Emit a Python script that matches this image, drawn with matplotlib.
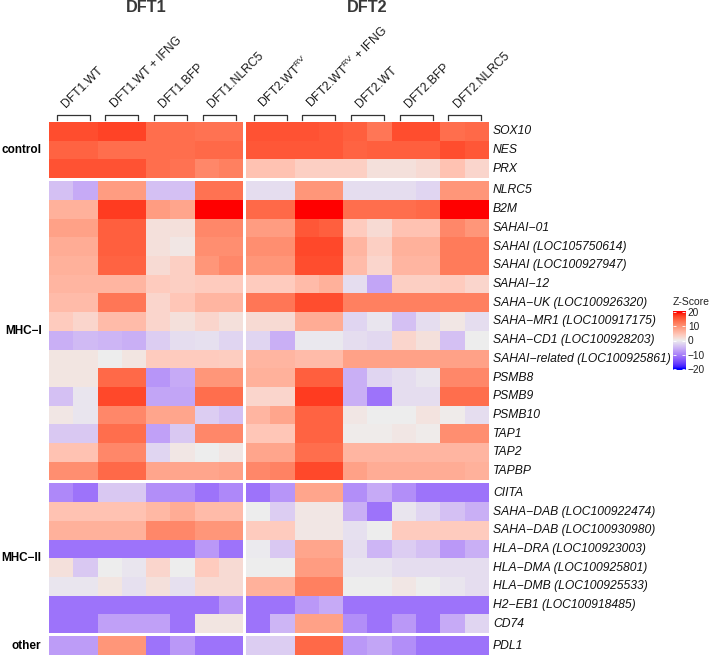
import numpy as np
import matplotlib
matplotlib.use('Agg')
import matplotlib.pyplot as plt
from matplotlib.colors import ListedColormap, Normalize
from matplotlib.lines import Line2D

plt.rcParams['font.family'] = ['Liberation Sans', 'DejaVu Sans']
plt.rcParams['mathtext.fontset'] = 'custom'
plt.rcParams['mathtext.rm'] = 'Liberation Sans'
plt.rcParams['mathtext.it'] = 'Liberation Sans:italic'

# ---------------- data ----------------
cell_lines = ['DFT1', 'DFT2']
groups = ['DFT1.WT', 'DFT1.WT + IFNG', 'DFT1.BFP', 'DFT1.NLRC5',
          r'DFT2.WT$^{\mathrm{RV}}$', r'DFT2.WT$^{\mathrm{RV}}$ + IFNG',
          'DFT2.WT', 'DFT2.BFP', 'DFT2.NLRC5']
groups_per_line = [4, 5]
reps_per_group = 2

sections = ['control', 'MHC\u2212I', 'MHC\u2212II', 'other']

control_genes = ['SOX10', 'NES', 'PRX']
mhc1_genes = ['NLRC5', 'B2M', 'SAHAI\u221201', 'SAHAI (LOC105750614)', 'SAHAI (LOC100927947)',
              'SAHAI\u221212', 'SAHA\u2212UK (LOC100926320)', 'SAHA\u2212MR1 (LOC100917175)',
              'SAHA\u2212CD1 (LOC100928203)', 'SAHAI\u2212related (LOC100925861)',
              'PSMB8', 'PSMB9', 'PSMB10', 'TAP1', 'TAP2', 'TAPBP']
mhc2_genes = ['CIITA', 'SAHA\u2212DAB (LOC100922474)', 'SAHA\u2212DAB (LOC100930980)',
              'HLA\u2212DRA (LOC100923003)', 'HLA\u2212DMA (LOC100925801)',
              'HLA\u2212DMB (LOC100925533)', 'H2\u2212EB1 (LOC100918485)', 'CD74']
other_genes = ['PDL1']

control_z = [
    [16.8, 16.8, 17.5, 17.5, 14, 14, 13.6, 13.6, 16.4, 16.4, 16.4, 16, 15.4, 13.2, 16.8, 16.8, 14, 14.5],
    [15, 15, 14, 14, 14, 14, 14.5, 14.5, 16, 16, 16, 16, 15, 15.4, 15.4, 15.4, 16.8, 16],
    [16.4, 16.4, 16.4, 16.4, 14, 13.6, 11.5, 12.3, 5, 5, 3.5, 3.5, 3.5, 1.5, 1.5, 2.2, 5, 2.8],
]
mhc1_z = [
    [-4.2, -6.3, 9.3, 9.3, -4.2, -4.2, 13.6, 13.6, -1.5, -1.5, 10, 10, -1.5, -1.5, -1.5, -2.2, 10, 10],
    [7, 7, 18, 18, 9.3, 8.3, 22, 22, 14.5, 14.5, 22, 22, 14, 14, 14, 14.5, 22, 22],
    [8.8, 8.8, 15.4, 15.4, 1.5, 1.5, 11.5, 11.5, 9.3, 9.3, 16, 15.4, 4, 2.2, 5, 5, 11.5, 10],
    [7.5, 7.5, 15.4, 15.4, 1.5, 0.8, 10.8, 10.8, 10.8, 10.8, 17.2, 17.2, 6.5, 3.5, 7, 7, 12.8, 12.8],
    [7, 7, 15, 15, 2.2, 3.5, 10, 11.5, 10, 10, 16.8, 16.8, 5.8, 2.8, 6.5, 6.5, 12.8, 12.8],
    [6.5, 6.5, 6.5, 6.5, 4, 3.5, 4, 4, 4, 4, 5.8, 7, -1.5, -6.8, 3.5, 3.5, 4, 2.8],
    [5.8, 5.8, 13.2, 13.2, 2.8, 4.6, 6.5, 6.5, 13.2, 13.2, 16.8, 16.8, 12.3, 12.3, 12.3, 12.3, 12.3, 12.3],
    [4, 2.8, 5.8, 5.8, 2.8, 1.5, 2.8, 1.5, 2.2, 2.2, 7.5, 7.5, -2.2, -0.8, -4.2, -1.5, 0.8, -1.5],
    [-5.8, -4.8, -5.3, -5.8, -3, -1.5, -1.2, -2.2, -2.2, -5.8, -0.5, -0.5, -1.5, -2, 2.8, 1.5, -4.2, 0],
    [1, 1, 0, 1, 4, 4, 4, 3.8, 6.5, 6.5, 5.8, 5.8, 8.8, 8.8, 8.8, 8.8, 8.8, 8.8],
    [1, 1, 14.5, 14.5, -8.3, -6.3, 10, 10, 7, 7, 15.4, 15.4, -5.8, -2.2, -1.5, -0.8, 11.5, 11.5],
    [-4.2, -0.8, 17.2, 17.2, -6.8, -6.8, 14, 14, 2.8, 2.8, 18, 18, -5.8, -11.5, -1.5, -1.5, 14, 14],
    [0.8, -0.8, 11.5, 11.5, 8.3, 8.3, -3, -4.2, 6.5, 8.3, 15, 15, 0.8, 0, 0, 1.2, 0.3, -1.5],
    [-3.5, -3.5, 14, 14, -7.2, -3.5, 11.5, 11.5, 4.6, 4.6, 15, 15, 0.3, 0.3, 0.8, 0.3, 10.8, 10.8],
    [5, 5, 11.5, 11.5, -2.2, 0.8, 0, 0.8, 8.3, 8.3, 14, 14, 6.5, 6.5, 6.5, 6.5, 6.5, 6.5],
    [10.8, 10.8, 14.5, 14.5, 8.3, 8.3, 8.3, 8.8, 11.5, 12, 17.2, 17.2, 8.8, 7.5, 7.5, 7.5, 7.5, 7],
]
mhc2_z = [
    [-9.5, -11.5, -3.5, -3.5, -9, -9, -11.5, -9.5, -11.5, -8.3, 8.3, 8.3, -9, -6.3, -9, -11.5, -11.5, -11.5],
    [5, 5, 5, 5, 6.2, 7.5, 5.8, 5.8, 0, -3, 0.8, 0.8, -5.8, -11.5, -0.8, -2.2, -4.2, -5.8],
    [7, 7, 7, 7, 11.5, 11.5, 10, 10, 4, 4, 0.8, 0.8, -1.2, 0, 4, 4, 4, 4],
    [-11.5, -11.5, -11.5, -11.5, -11.5, -11.5, -8, -11.5, -0.3, -3.5, 8.3, 8.3, -1.5, -5.3, -3, -4.2, -8, -5.8],
    [1.5, -3.5, 0, -0.8, 2.8, 0, 4, 2.2, 0, 0, 9.3, 9.3, -0.8, -0.8, -1.5, -1.5, -1.5, -1.5],
    [-0.8, -0.8, 1, -1.2, 1.5, -1.2, 2.2, 2.2, 7, 7, 12.3, 12.3, 0, 0, 0.8, 0, -0.8, -1.5],
    [-11.5, -11.5, -11.5, -11.5, -11.5, -11.5, -11.5, -8, -11.5, -11.5, -8, -6.3, -11.5, -11.5, -11.5, -11.5, -11.5, -11.5],
    [-11.5, -11.5, -7.2, -7.2, -7.2, -11.5, 1, 1, -11.5, -5.3, 8.8, 8.8, -9, -11.5, -8, -11.5, -6.3, -2.2],
]
other_z = [
    [-7.6, -7.6, 10, 10, -11.5, -8, -11.5, -11.5, -3, -3, 14.5, 14.5, -8, -6.8, -9, -11.5, -11.5, -11.5],
]

legend_title = 'Z-Score'
legend_ticks = [-20, -10, 0, 10, 20]

# ---------------- colour map (LAB interpolation blue - light grey - red) ----------------
def _srgb_to_lin(c):
    c = np.asarray(c, float)
    return np.where(c <= 0.04045, c / 12.92, ((c + 0.055) / 1.055) ** 2.4)

def _lin_to_srgb(c):
    c = np.clip(c, 0, 1)
    return np.where(c <= 0.0031308, 12.92 * c, 1.055 * c ** (1 / 2.4) - 0.055)

M = np.array([[0.4124, 0.3576, 0.1805], [0.2126, 0.7152, 0.0722], [0.0193, 0.1192, 0.9505]])
Minv = np.linalg.inv(M)
WP = np.array([0.95047, 1.0, 1.08883])

def rgb2lab(rgb):
    xyz = M @ _srgb_to_lin(rgb) / WP
    f = np.where(xyz > 0.008856, np.cbrt(xyz), 7.787 * xyz + 16 / 116)
    return np.array([116 * f[1] - 16, 500 * (f[0] - f[1]), 200 * (f[1] - f[2])])

def lab2rgb(lab):
    L, a, b = lab
    fy = (L + 16) / 116
    fx = fy + a / 500
    fz = fy - b / 200
    f = np.array([fx, fy, fz])
    xyz = np.where(f ** 3 > 0.008856, f ** 3, (f - 16 / 116) / 7.787) * WP
    return _lin_to_srgb(Minv @ xyz)

lab_blue = rgb2lab([0, 0, 1])
lab_mid = rgb2lab([0.93, 0.93, 0.93])
lab_red = rgb2lab([1, 0, 0])
cols = []
for v in np.linspace(-20, 20, 401):
    if v < 0:
        t = -v / 20
        lab = lab_mid + t * (lab_blue - lab_mid)
    else:
        t = v / 20
        lab = lab_mid + t * (lab_red - lab_mid)
    cols.append(lab2rgb(lab))
cmap = ListedColormap(np.clip(np.array(cols), 0, 1))
norm = Normalize(vmin=-20, vmax=20)

# ---------------- layout ----------------
W, H = 709, 657
fig = plt.figure(figsize=(W / 100, H / 100), dpi=100)

x_left = 49.0
col_w = 24.29
col_gap = 2.7
y_top = 122.0
row_h = 18.71
row_gap = 3.0

row_blocks = [control_z, mhc1_z, mhc2_z, other_z]
gene_blocks = [control_genes, mhc1_genes, mhc2_genes, other_genes]

def fig_rect(px0, py0, pw, ph):
    return [px0 / W, 1 - (py0 + ph) / H, pw / W, ph / H]

col_starts = []
x = x_left
for n_groups in groups_per_line:
    ncol = n_groups * reps_per_group
    col_starts.append((x, ncol))
    x += ncol * col_w + col_gap

overlay = fig.add_axes([0, 0, 1, 1])
overlay.set_xlim(0, W)
overlay.set_ylim(H, 0)
overlay.axis('off')

y = y_top
for bi, (block, genes) in enumerate(zip(row_blocks, gene_blocks)):
    data = np.array(block, float)
    nrow = data.shape[0]
    c0 = 0
    for (xs, ncol) in col_starts:
        ax = fig.add_axes(fig_rect(xs, y, ncol * col_w, nrow * row_h))
        ax.pcolormesh(data[:, c0:c0 + ncol], cmap=cmap, norm=norm, edgecolors='none')
        ax.set_xlim(0, ncol)
        ax.set_ylim(nrow, 0)
        ax.axis('off')
        c0 += ncol
    for i, g in enumerate(genes):
        overlay.text(493, y + (i + 0.5) * row_h, g, fontsize=8.7, style='italic',
                     ha='left', va='center', color='#111111')
    overlay.text(41.5, y + nrow * row_h / 2, sections[bi], fontsize=8.5, fontweight='bold',
                 ha='right', va='center', color='black')
    y += nrow * row_h + row_gap

gi = 0
for li, (xs, ncol) in enumerate(col_starts):
    overlay.text(xs + ncol * col_w / 2, 7.5, cell_lines[li], fontsize=11.7, fontweight='bold',
                 ha='center', va='center', color='#383838')
    for k in range(groups_per_line[li]):
        gx0 = xs + k * reps_per_group * col_w
        gc = gx0 + reps_per_group * col_w / 2
        hw = 0.34 * reps_per_group * col_w
        overlay.add_line(Line2D([gc - hw, gc - hw, gc + hw, gc + hw], [119.5, 114.5, 114.5, 119.5],
                                color='#333333', lw=0.9))
        overlay.text(gc - 7, 108.5, groups[gi], fontsize=8.7, rotation=45, rotation_mode='anchor',
                     ha='left', va='baseline', color='#1a1a1a')
        gi += 1

# legend
cax = fig.add_axes(fig_rect(672.7, 311, 12.3, 59))
grad = np.linspace(-21, 21, 200).reshape(-1, 1)
cax.imshow(grad, extent=[0, 1, -21, 21], origin='lower', aspect='auto', cmap=cmap, norm=norm)
cax.set_xlim(0, 1)
cax.set_ylim(-21, 21)
cax.set_xticks([])
cax.set_yticks(legend_ticks)
cax.yaxis.tick_right()
cax.tick_params(axis='y', direction='in', length=2.5, width=0.6, color='white',
                left=True, right=True, labelsize=7.3, labelcolor='#222222', pad=2)
for s in cax.spines.values():
    s.set_visible(False)
overlay.text(672.7, 302, legend_title, fontsize=7.5, ha='left', va='center', color='#222222')

fig.savefig('out.png', dpi=100)
